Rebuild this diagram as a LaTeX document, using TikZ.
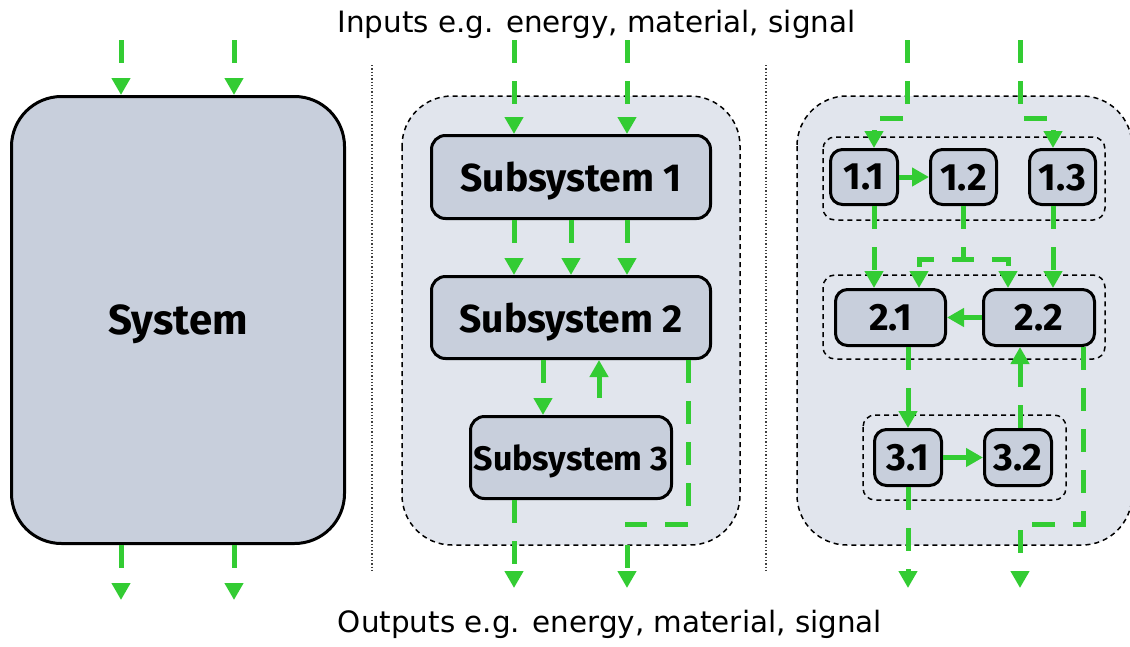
\documentclass[tikz,border=0pt]{standalone}
\usepackage{fontspec}
\setmainfont{Fira Sans}
\newfontfamily\capfont{DejaVu Sans}
\usetikzlibrary{arrows.meta}
\definecolor{flowgreen}{RGB}{51,204,51}
\definecolor{boxfill}{RGB}{200,207,220}
\definecolor{panelfill}{RGB}{225,229,237}
\begin{document}
\begin{tikzpicture}[x=1pt,y=-1pt,
  flow/.style={draw=flowgreen, line width=5pt, dash pattern=on 23pt off 18pt, -{Triangle[width=18pt,length=17pt]}},
  solidflow/.style={draw=flowgreen, line width=5pt, -{Triangle[width=18pt,length=17pt]}},
  blk/.style={draw=black, line width=3pt, fill=boxfill, rounded corners=14pt, inner sep=0pt, text depth=0pt, font=\bfseries\fontsize{39}{43}\selectfont},
  smallblk/.style={blk, rounded corners=12pt, font=\bfseries\fontsize{38}{42}\selectfont},
  panel/.style={draw=black, line width=1.5pt, dash pattern=on 5pt off 4pt, fill=panelfill, rounded corners=50pt},
  grp/.style={draw=black, line width=1.5pt, dash pattern=on 5pt off 4pt, rounded corners=12pt},
  divider/.style={draw=black!75, line width=1.3pt, dotted},
  caption/.style={font=\capfont\fontsize{29.4}{33}\selectfont, inner sep=0pt, anchor=base}]
\useasboundingbox (0,0) rectangle (1130,646);
\clip (0,0) rectangle (1130,646);

% captions
\node[caption] (inlbl) at (596.5,32) {Inputs e.g. energy, material, signal};
\node[caption] (outlbl) at (610,632) {Outputs e.g. energy, material, signal};

% dividers
\draw[divider] (372,65) -- (372,570);
\draw[divider] (766,65) -- (766,570);

% left: system
\node[blk, rounded corners=50pt, minimum width=333pt, minimum height=447pt, font=\bfseries\fontsize{42}{46}\selectfont] (sys) at (178,320) {System};

% middle panel
\path[panel] (402,96) rectangle (740,545);
\node[blk, minimum width=279pt, minimum height=83pt] (s1) at (571,177) {Subsystem 1};
\node[blk, minimum width=279pt, minimum height=82pt] (s2) at (571,317.5) {Subsystem 2};
\node[blk, minimum width=201pt, minimum height=82pt, font=\bfseries\fontsize{34}{38}\selectfont] (s3) at (571,457.5) {Subsystem 3};

% right panel
\path[panel] (797,96) rectangle (1132,545);
\path[grp] (823,137) rectangle (1105,220);
\path[grp] (823,275) rectangle (1105,359);
\path[grp] (863,415) rectangle (1066,500);
\node[smallblk, minimum width=67pt, minimum height=55pt] (n11) at (864,177) {1.1};
\node[smallblk, minimum width=66pt, minimum height=55pt] (n12) at (963.5,177) {1.2};
\node[smallblk, minimum width=66pt, minimum height=55pt] (n13) at (1062.5,177) {1.3};
\node[smallblk, minimum width=110pt, minimum height=56pt] (n21) at (890.5,317.5) {2.1};
\node[smallblk, minimum width=111pt, minimum height=56pt] (n22) at (1039,317.5) {2.2};
\node[smallblk, minimum width=67pt, minimum height=56pt] (n31) at (908,457.5) {3.1};
\node[smallblk, minimum width=67pt, minimum height=56pt] (n32) at (1018,457.5) {3.2};

% coordinates for free ends
\coordinate (sin1) at (121,40);
\coordinate (sin2) at (234,40);
\coordinate (sout1) at (121,600);
\coordinate (sout2) at (234,600);
\coordinate (min1) at (514,40);
\coordinate (min2) at (627,40);
\coordinate (mout1) at (514,588);
\coordinate (mout2) at (627,588);
\coordinate (rin1) at (907,40);
\coordinate (rin2) at (1020,40);
\coordinate (rout1) at (908,588);
\coordinate (rout2) at (1020,588);

% left flows
\draw[flow] (sin1) -- (sin1 |- sys.north);
\draw[flow] (sin2) -- (sin2 |- sys.north);
\draw[flow] (sout1 |- sys.south) -- (sout1);
\draw[flow] (sout2 |- sys.south) -- (sout2);

% middle flows
\draw[flow] (min1) -- (min1 |- s1.north);
\draw[flow] (min2) -- (min2 |- s1.north);
\draw[flow] (s1.south -| min1) -- (s2.north -| min1);
\draw[flow] (s1.south) -- (s2.north);
\draw[flow] (s1.south -| min2) -- (s2.north -| min2);
\draw[flow] ([xshift=-28pt]s2.south) -- ([xshift=-28pt]s3.north);
\draw[flow, dash phase=24pt] ([xshift=28pt]s3.north) -- ([xshift=28pt]s2.south);
\draw[flow] ([xshift=117pt]s2.south) -- ++(0,164) -| (mout2);
\draw[flow] (s3.south -| mout1) -- (mout1);

% right flows
\draw[flow] (rin1) -- ++(0,78) -| ([xshift=10pt]n11.north);
\draw[flow] (rin2) -- ++(0,78) -| ([xshift=-9.5pt]n13.north);
\draw[solidflow] (n11.east) -- (n12.west);
\draw[flow] ([xshift=10pt]n11.south) -- ([xshift=10pt]n11.south |- n21.north);
\draw[flow] ([xshift=-0.5pt]n12.south) -- ++(0,53) -| ([xshift=28.5pt]n21.north);
\draw[flow] ([xshift=-0.5pt]n12.south) -- ++(0,53) -| ([xshift=-31pt]n22.north);
\draw[flow] ([xshift=-9.5pt]n13.south) -- ([xshift=-9.5pt]n13.south |- n22.north);
\draw[solidflow] (n22.west) -- (n21.east);
\draw[flow] (n31.north |- n21.south) -- (n31.north);
\draw[solidflow] (n31.east) -- (n32.west);
\draw[flow] ([xshift=2pt]n32.north) -- ([xshift=2pt]n32.north |- n22.south);
\draw[flow] ([xshift=44pt]n22.south) -- ++(0,177) -| (rout2);
\draw[flow] (n31.south) -- (rout1);
\end{tikzpicture}
\end{document}
